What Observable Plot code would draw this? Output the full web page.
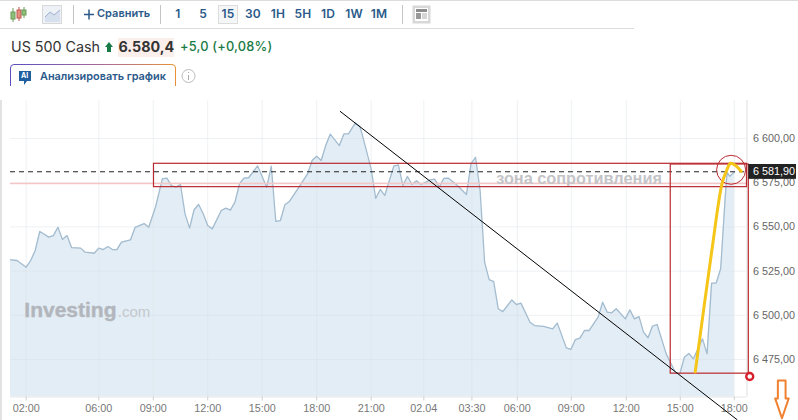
<!DOCTYPE html>
<html lang="ru">
<head>
<meta charset="utf-8">
<script src="https://cdn.jsdelivr.net/npm/d3@7"></script>
<script src="https://cdn.jsdelivr.net/npm/@observablehq/plot@0.6"></script>
<style>
html,body{margin:0;padding:0;background:#fff;width:798px;height:420px;overflow:hidden}
#page{position:relative;width:798px;height:420px;font-family:Inter,"Liberation Sans",sans-serif}
#head{position:absolute;left:0;top:0;width:798px;height:100px}
#chart{position:absolute;left:0;top:100px}
.t{position:absolute;white-space:nowrap;line-height:1}
.tf{top:8px;font-size:12px;font-weight:600;color:#2b5a8a;transform:translateX(-50%);letter-spacing:.2px}
.rule{position:absolute;background:#dcdcdc}
</style>
</head>
<body>
<div id="page">
<div id="head">
  <div class="rule" style="left:0;top:0;width:798px;height:1px"></div>
  <div class="rule" style="left:0;top:28px;width:634px;height:1px"></div>
  <div class="rule" style="left:0;top:100px;width:2px;height:320px;background:#e2e2e2"></div>
  <div class="rule" style="left:73px;top:5px;width:1px;height:19px;background:#c4c4c4"></div>
  <div class="rule" style="left:160px;top:5px;width:1px;height:19px;background:#c4c4c4"></div>
  <div class="rule" style="left:402px;top:5px;width:1px;height:19px;background:#c4c4c4"></div>
  <svg style="position:absolute;left:0;top:0" width="640" height="100">
    <g stroke-width="1">
      <line x1="13" y1="8" x2="13" y2="22" stroke="#6a9a55"/><rect x="11" y="12" width="4" height="7" fill="#8fc07a" stroke="#6a9a55"/>
      <line x1="19" y1="7" x2="19" y2="21" stroke="#c0564a"/><rect x="17" y="10" width="4" height="8" fill="#e58f80" stroke="#c0564a"/>
      <line x1="24" y1="7" x2="24" y2="18" stroke="#6a9a55"/><rect x="22" y="10" width="4" height="5" fill="#8fc07a" stroke="#6a9a55"/>
    </g>
    <rect x="42.5" y="5.5" width="19" height="18" fill="#eef1f6" stroke="#d8d8d8"/>
    <path d="M45 17 L50 12 L54 15 L60 10 V22 H45 Z" fill="#d7e0ef"/>
    <path d="M45 17 L50 12 L54 15 L60 10" fill="none" stroke="#9fb0cf" stroke-width="1"/>
    <path d="M84 14.5 H94 M89 9.5 V19.5" stroke="#2b5a8a" stroke-width="1.5"/>
    <rect x="218.5" y="5.5" width="19" height="18" fill="#f4f6f8" stroke="#dcdcdc"/>
    <rect x="412.5" y="5.5" width="18" height="18" fill="#d8d8d8"/>
    <rect x="415" y="8" width="13" height="13" fill="#fff"/>
    <rect x="416" y="9" width="11" height="3" fill="#8c8c8c"/>
    <rect x="416" y="13" width="5" height="6" fill="#999"/>
    <path d="M422 14 H427 M422 16 H427 M422 18 H427" stroke="#aaa"/>
    <path d="M109 42 L113 47 H111 V52 H107 V47 H105 Z" fill="#1a7a45"/>
    <rect x="118" y="38" width="56" height="19" fill="#fbefeb"/>
    <defs><linearGradient id="g" x1="0" x2="1" y1="0" y2="0"><stop offset="0" stop-color="#5a4fc0"/><stop offset=".55" stop-color="#a86a9a"/><stop offset="1" stop-color="#e8913a"/></linearGradient></defs>
    <path d="M10.5 86 V68 Q10.5 64.5 14 64.5 H172 Q175.5 64.5 175.5 68 V86" fill="none" stroke="url(#g)" stroke-width="1"/>
    <path d="M19 71 H31 V81 H27 L24 85 V81 H19 Z" fill="#1f5fa0"/>
    <circle cx="188.5" cy="76" r="6.5" fill="none" stroke="#bdbdbd"/>
    <path d="M188.5 75 V80 M188.5 72 V73" stroke="#aaa"/>
  </svg>
  <div class="t" style="left:97px;top:8px;font-size:11px;font-weight:600;color:#2b5a8a">Сравнить</div>
  <div class="t tf" style="left:178px">1</div>
  <div class="t tf" style="left:203px">5</div>
  <div class="t tf" style="left:228px">15</div>
  <div class="t tf" style="left:253px">30</div>
  <div class="t tf" style="left:278px">1H</div>
  <div class="t tf" style="left:303px">5H</div>
  <div class="t tf" style="left:328px">1D</div>
  <div class="t tf" style="left:354px">1W</div>
  <div class="t tf" style="left:379px">1M</div>
  <div class="t" style="left:11px;top:40px;font-size:14.3px;color:#333">US 500 Cash</div>
  <div class="t" style="left:118.5px;top:40px;font-size:14.3px;font-weight:700;color:#333">6.580,4</div>
  <div class="t" style="left:180px;top:41px;font-size:12.8px;font-weight:500;color:#1a7a45;letter-spacing:.2px">+5,0 (+0,08%)</div>
  <div class="t" style="left:21px;top:72px;font-size:7px;font-weight:700;color:#fff">AI</div>
  <div class="t" style="left:40px;top:71px;font-size:10.9px;font-weight:600;color:#2b5a8a">Анализировать график</div>
</div>
<div id="chart"></div>
</div>
<script>
const barIndex = [-3.45,-2,0,1,2,3,5,6,7,8,9,10,12,13,15,16,17,18,19,20,21,23,24,26,27,28.5,30,31,32,33,34,35,36,37,38,39,40,41,43,44,45,46,47,48,49,51,53,54,55,56,57,58,60,62,63,64,65,66,67,69,70,71,72.5,73.5,74,76,77,78,79,81,82,83,84,85,86,87,89,90,91,92,93,95,97,98,99,100,101,102,103,104,105,107,108,109,111,112,114,116,117,119,120,121,122,123,124,126,127,128,129,130,132,133,134,135,136,137,138,139,141,143,144,145,146,147,149,150,151,152,153,154,154.4,155,156];
const price = [6531.4,6531,6527.2,6531,6536.7,6547.4,6544.2,6545.1,6549.8,6542.9,6545.1,6538.3,6538,6535.7,6535.1,6538,6537.2,6538.9,6537.2,6537.2,6541.4,6542.7,6549.7,6551.9,6549.8,6561.2,6577.2,6577.6,6573.4,6572.5,6574,6557.4,6549.3,6559.7,6562.7,6557.4,6550.8,6548.9,6559.3,6560.6,6559.5,6564,6574.4,6577.6,6577.8,6584.5,6572.5,6584.4,6553.1,6553.6,6562.5,6564.4,6572.1,6580,6587.6,6590,6587.6,6596,6602.5,6596,6602.6,6602.6,6608.7,6606.8,6602.6,6582.8,6566.1,6571.2,6567.8,6584.4,6585.1,6573.4,6578.5,6574,6576.1,6574,6576.6,6577,6572.5,6577.4,6577.6,6573.4,6568.3,6585.7,6589.4,6570.6,6530,6520.2,6519.1,6503.7,6502.1,6508.7,6506.1,6506.9,6496.1,6494.2,6493.7,6492.3,6495.6,6481.6,6480.7,6486.3,6487.1,6491.4,6491.4,6499,6507.4,6501.8,6501.4,6503.7,6498,6503.1,6498,6499.3,6490.5,6487.3,6493.9,6494.8,6478.2,6467.8,6466.9,6476.3,6478.4,6475.4,6486.7,6478.2,6518.2,6518.2,6526.3,6566.8,6581,6578.6,6581];
const timeTicks = [0,16,28,40,52,64,76,87.6,98.2,108.2,120.1,132.2,144.1,156];
const timeLabels = ["02:00","06:00","09:00","12:00","15:00","18:00","21:00","02.04","03:30","06:00","09:00","12:00","15:00","18:00"];
const priceTicks = [6475,6500,6525,6550,6575,6600];
const domainX = [-3.45,158.8];
const domainY = [6453.8,6621.5];
const lastPrice = 6581.2, lastLabel = "6 581,90";
const pinkLevel = 6574.6;

const zoneBox = [{x1:28.16,x2:158.8,y1:6572.5,y2:6585.7}];
const moveBox = [{x1:142,x2:159.2,y1:6467,y2:6585.3}];
const tagBox = [{x1:159.2,x2:169.7,y1:6576.9,y2:6585.3}];
const trendX = [69.2,156.6], trendY = [6615.3,6441];
const curveX = [147.4,150.9,153.3,154.3,155.2,156.3,157.5];
const curveY = [6468,6533.8,6574.5,6581.9,6586,6584.7,6581.5];
const arrowX = [165.6,167.3,167.3,168,166.5,165,165.6,165.6];
const arrowY = [6463.1,6463.1,6453,6453,6441.8,6453,6453,6463.1];

const series = barIndex.map((i,k)=>({i,p:price[k]}));
const fmt = v => { const s = v.toFixed(2).replace(".",","); return s[0]+" "+s.slice(1); };
const font = "'Liberation Sans',Arial,sans-serif";

const chart = Plot.plot({
  width:798, height:320,
  marginLeft:10, marginRight:51.5, marginTop:0, marginBottom:23.5,
  style:{fontFamily:font, background:"transparent", overflow:"visible"},
  x:{domain:domainX},
  y:{domain:domainY},
  marks:[
    Plot.areaY(series,{x:"i",y1:domainY[0],y2:"p",fill:"#e3edf5"}),
    Plot.gridX(timeTicks,{stroke:"#d9dfe5",strokeOpacity:0.45}),
    Plot.gridY(priceTicks,{stroke:"#d9dfe5",strokeOpacity:0.45}),
    Plot.line(series,{x:"i",y:"p",stroke:"#a3bccf",strokeWidth:1.3}),
    Plot.ruleX([domainX[1]],{stroke:"#dedede"}),
    Plot.ruleY([domainY[0]],{stroke:"#e6e6e6"}),
    Plot.axisX({ticks:timeTicks,tickFormat:(d)=>timeLabels[timeTicks.indexOf(d)],tickSize:4,tickPadding:3,stroke:"#d0d0d0",color:"#777",fontSize:10.8,label:null}),
    Plot.axisY({anchor:"right",ticks:priceTicks,tickFormat:fmt,tickSize:0,tickPadding:6,color:"#666",fontSize:10.8,label:null}),
    Plot.ruleY([pinkLevel],{stroke:"#f5c6c6",strokeWidth:1.5}),
    Plot.ruleY([lastPrice],{stroke:"#222",strokeDasharray:"5,4",strokeWidth:1}),
    Plot.text(["зона сопротивления"],{x:[121.8],y:[6577.4],text:d=>d,textAnchor:"middle",fontSize:16.3,fontWeight:"bold",fill:"#c4c4c8"}),
    Plot.text(["Investing"],{x:[-0.4],y:[6502.7],text:d=>d,textAnchor:"start",fontSize:21,fontWeight:"bold",fill:"#b2b6bc",stroke:"#b2b6bc",strokeWidth:0.4,letterSpacing:"-0.8px"}),
    Plot.text([".com"],{x:[20.2],y:[6502],text:d=>d,textAnchor:"start",fontSize:15,fill:"#c4c8cd"}),
    Plot.rect(zoneBox,{x1:"x1",x2:"x2",y1:"y1",y2:"y2",fill:"none",stroke:"#b92a30",strokeWidth:1.2}),
    Plot.rect(moveBox,{x1:"x1",x2:"x2",y1:"y1",y2:"y2",fill:"none",stroke:"#b92a30",strokeWidth:1.2}),
    Plot.line(trendX.map((x,k)=>({x,y:trendY[k]})),{x:"x",y:"y",stroke:"#000",strokeWidth:1}),
    Plot.dot([{x:155.3,y:6582.3}],{x:"x",y:"y",r:14.5,stroke:"#b92a30",strokeWidth:1,fill:"none"}),
    Plot.line(curveX.map((x,k)=>({x,y:curveY[k]})),{x:"x",y:"y",stroke:"#f5c518",strokeWidth:3,curve:"catmull-rom"}),
    Plot.dot([{x:159.4,y:6465.4}],{x:"x",y:"y",r:3.5,stroke:"#d8202c",strokeWidth:2.4,fill:"#fff"}),
    Plot.line(arrowX.map((x,k)=>({x,y:arrowY[k]})),{x:"x",y:"y",stroke:"#ef8130",strokeWidth:2,fill:"#fff"}),
    Plot.rect(tagBox,{x1:"x1",x2:"x2",y1:"y1",y2:"y2",fill:"#222"}),
    Plot.text([lastLabel],{x:[domainX[1]],y:[lastPrice],text:d=>d,textAnchor:"start",dx:6,fontSize:10.8,fill:"#fff"})
  ]
});
document.getElementById("chart").appendChild(chart);
</script>
</body>
</html>
